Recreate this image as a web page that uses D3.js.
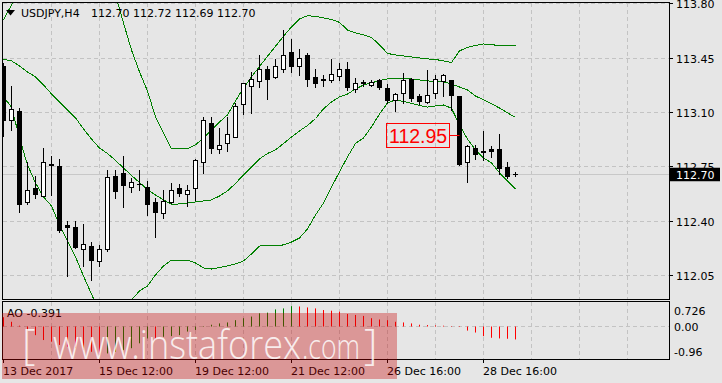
<!DOCTYPE html>
<html>
<head>
<meta charset="utf-8">
<script src="https://cdn.jsdelivr.net/npm/d3@7"></script>
<style>
	html, body { margin: 0; padding: 0; background: #e6e6e6; }
	svg { display: block; }
	text { font-family: 'DejaVu Sans', sans-serif; font-size: 11px; fill: #000; }
</style>
</head>
<body>
<svg id="chart" width="722" height="383"></svg>
<script>
// USDJPY H4 candles (bar 0 = left edge)
const open = [113.40, 113.05, 113.11, 112.52, 112.61, 112.56, 112.765, 112.75, 112.37, 112.36,
	112.22, 112.24, 112.14, 112.22, 112.69, 112.71, 112.62, 112.64, 112.62, 112.52,
	112.45, 112.52, 112.61, 112.575, 112.61, 112.78, 113.03, 112.865, 112.90, 112.94,
	113.155, 113.27, 113.30, 113.375, 113.325, 113.38, 113.485, 113.40, 113.465, 113.325,
	113.31, 113.305, 113.335, 113.375, 113.25, 113.288, 113.272, 113.305, 113.253, 113.177,
	113.22, 113.315, 113.203, 113.162, 113.22, 113.302, 113.304, 113.205, 112.78, 112.872,
	112.84, 112.865, 112.865, 112.749, 112.70]
const high = [113.42, 113.27, 113.13, 112.78, 112.69, 112.87, 112.82, 112.80, 112.40, 112.40,
	112.38, 112.27, 112.25, 112.73, 112.73, 112.82, 112.68, 112.73, 112.66, 112.55,
	112.60, 112.65, 112.64, 112.635, 112.80, 113.07, 113.07, 113.00, 113.07, 113.16,
	113.29, 113.36, 113.47, 113.40, 113.445, 113.63, 113.575, 113.51, 113.485, 113.38,
	113.345, 113.445, 113.42, 113.425, 113.325, 113.31, 113.31, 113.317, 113.285, 113.224,
	113.356, 113.321, 113.218, 113.377, 113.343, 113.35, 113.305, 113.21, 112.89, 112.891,
	112.98, 112.885, 112.962, 112.78, 112.72]
const low = [112.95, 112.99, 112.46, 112.51, 112.55, 112.56, 112.57, 112.33, 112.05, 112.23,
	112.11, 112.02, 112.11, 112.21, 112.55, 112.49, 112.59, 112.60, 112.44, 112.30,
	112.42, 112.52, 112.56, 112.50, 112.54, 112.71, 112.84, 112.84, 112.85, 112.94,
	113.09, 113.10, 113.265, 113.19, 113.32, 113.36, 113.36, 113.34, 113.27, 113.265,
	113.27, 113.30, 113.31, 113.245, 113.235, 113.27, 113.27, 113.25, 113.162, 113.108,
	113.162, 113.173, 113.153, 113.16, 113.192, 113.21, 113.12, 112.765, 112.656, 112.80,
	112.794, 112.814, 112.704, 112.682, 112.69]
const close = [113.05, 113.12, 112.51, 112.60, 112.57, 112.78, 112.76, 112.34, 112.36, 112.23,
	112.25, 112.15, 112.22, 112.68, 112.59, 112.63, 112.65, 112.635, 112.51, 112.46,
	112.53, 112.60, 112.58, 112.60, 112.79, 113.05, 112.87, 112.89, 112.96, 113.14,
	113.285, 113.31, 113.38, 113.31, 113.395, 113.47, 113.395, 113.45, 113.31, 113.29,
	113.305, 113.345, 113.38, 113.26, 113.285, 113.292, 113.291, 113.263, 113.18, 113.214,
	113.304, 113.192, 113.171, 113.211, 113.311, 113.336, 113.21, 112.768, 112.885, 112.833,
	112.852, 112.852, 112.74, 112.688, 112.70]

// Bollinger bands as drawn (parts above / below the panel are estimates)
const bandUpper = [113.697, 113.793, 113.864, 113.961, 114.012, 113.999, 113.941, 113.961, 113.961, 113.961,
	113.941, 113.929, 113.929, 113.922, 113.858, 113.677, 113.503, 113.362, 113.239, 113.072,
	112.969, 112.866, 112.866, 112.866, 112.892, 112.937, 112.988, 113.040, 113.085, 113.175,
	113.259, 113.330, 113.397, 113.463, 113.527, 113.592, 113.652, 113.703, 113.724, 113.719,
	113.710, 113.700, 113.681, 113.632, 113.613, 113.600, 113.584, 113.536, 113.481, 113.471,
	113.465, 113.458, 113.452, 113.446, 113.442, 113.433, 113.423, 113.497, 113.520, 113.532,
	113.542, 113.539, 113.529, 113.529, 113.529]
const bandMiddle = [113.444, 113.433, 113.400, 113.362, 113.330, 113.278, 113.220, 113.169, 113.117, 113.066,
	112.995, 112.930, 112.872, 112.837, 112.792, 112.744, 112.695, 112.650, 112.605, 112.570,
	112.538, 112.509, 112.512, 112.518, 112.525, 112.531, 112.538, 112.563, 112.596, 112.644,
	112.699, 112.750, 112.802, 112.837, 112.860, 112.901, 112.943, 112.982, 113.017, 113.062,
	113.124, 113.169, 113.201, 113.220, 113.252, 113.278, 113.291, 113.307, 113.317, 113.320,
	113.320, 113.317, 113.310, 113.304, 113.301, 113.297, 113.285, 113.265, 113.246, 113.207,
	113.182, 113.156, 113.130, 113.098, 113.069]
const bandLower = [113.201, 113.136, 112.937, 112.763, 112.647, 112.557, 112.499, 112.377, 112.274, 112.171,
	112.048, 111.932, 111.816, 111.752, 111.726, 111.810, 111.894, 111.952, 111.984, 112.055,
	112.113, 112.151, 112.151, 112.151, 112.132, 112.100, 112.093, 112.103, 112.113, 112.126,
	112.145, 112.190, 112.241, 112.245, 112.245, 112.248, 112.267, 112.293, 112.351, 112.441,
	112.518, 112.621, 112.718, 112.815, 112.901, 112.937, 113.008, 113.091, 113.162, 113.182,
	113.172, 113.160, 113.146, 113.136, 113.143, 113.149, 113.128, 113.021, 112.930, 112.860,
	112.808, 112.776, 112.712, 112.660, 112.607]

// Awesome Oscillator
const aoValues = [0.29, 0.15, 0.03, -0.12, -0.26, -0.41, -0.46, -0.56, -0.61, -0.66,
	-0.72, -0.77, -0.87, -0.82, -0.77, -0.72, -0.66, -0.51, -0.36, -0.39,
	-0.31, -0.29, -0.26, -0.15, -0.10, 0.02, 0.06, 0.10, 0.13, 0.20,
	0.26, 0.31, 0.41, 0.43, 0.53, 0.56, 0.63, 0.62, 0.59, 0.56,
	0.51, 0.49, 0.46, 0.39, 0.36, 0.33, 0.26, 0.22, 0.20, 0.15,
	0.13, 0.10, 0.06, 0.05, 0.04, 0.03, 0.02, -0.01, -0.12, -0.18,
	-0.29, -0.34, -0.36, -0.37, -0.391]

const priceTicks = [113.80, 113.45, 113.10, 112.75, 112.40, 112.05]
const aoTicks = [0.726, 0, -0.96]
const aoTickLabels = ['0.726', '0.00', '-0.96']
const timeTickBars = [0, 12, 24, 36, 48, 60]
const timeTickLabels = ['13 Dec 2017', '15 Dec 12:00', '19 Dec 12:00', '21 Dec 12:00', '26 Dec 16:00', '28 Dec 16:00']
const lastPrice = 112.70
const markPrice = 112.95
const markBar = 57

const bg = '#e6e6e6'
const gridColor = '#c3c3c3'
const bandColor = '#008000'
const crisp = (v) => Math.floor(v) + 0.5

const svg = d3.select('#chart')

const x = d3.scaleLinear().domain([0, 1]).range([3.5, 11.5])
const y = d3.scaleLinear().domain([111.9, 113.825]).range([299, 0])
const yAo = d3.scaleLinear().domain([-0.96, 0.726]).range([358, 303])

const bars = d3.range(open.length).map((i) => ({
	i, o: open[i], h: high[i], l: low[i], c: close[i]
}))

svg.append('rect').attr('width', 722).attr('height', 383).attr('fill', bg)

const defs = svg.append('defs')
defs.append('clipPath').attr('id', 'clip-main')
	.append('rect').attr('x', 3).attr('y', 3).attr('width', 666).attr('height', 296)
defs.append('clipPath').attr('id', 'clip-ao')
	.append('rect').attr('x', 3).attr('y', 302).attr('width', 666).attr('height', 57)

// ---- main panel
const main = svg.append('g').attr('clip-path', 'url(#clip-main)')

const gridBars = d3.range(6, 79, 6)
main.selectAll('line.vgrid')
	.data(gridBars)
	.join('line')
		.attr('class', 'vgrid')
		.attr('x1', (d) => x(d)).attr('x2', (d) => x(d))
		.attr('y1', 3).attr('y2', 299)
		.attr('stroke', gridColor)
		.attr('stroke-dasharray', '4,3')

main.selectAll('line.hgrid')
	.data(priceTicks)
	.join('line')
		.attr('class', 'hgrid')
		.attr('x1', 3).attr('x2', 669)
		.attr('y1', (d) => crisp(y(d))).attr('y2', (d) => crisp(y(d)))
		.attr('stroke', gridColor)
		.attr('stroke-dasharray', '4,3')

// current price line
main.append('line')
	.attr('x1', 3).attr('x2', 669)
	.attr('y1', crisp(y(lastPrice))).attr('y2', crisp(y(lastPrice)))
	.attr('stroke', '#c8c8c8')

const bandLine = d3.line()
	.x((d, i) => x(i))
	.y((d) => y(d))

main.selectAll('path.band')
	.data([bandUpper, bandMiddle, bandLower])
	.join('path')
		.attr('class', 'band')
		.attr('d', bandLine)
		.attr('fill', 'none')
		.attr('stroke', bandColor)
		.attr('stroke-width', 1)
		.attr('shape-rendering', 'crispEdges')

const candle = main.selectAll('g.candle')
	.data(bars)
	.join('g')
		.attr('class', 'candle')

candle.append('line')
	.attr('x1', (d) => x(d.i)).attr('x2', (d) => x(d.i))
	.attr('y1', (d) => Math.round(y(d.h))).attr('y2', (d) => Math.round(y(d.l)) + 1)
	.attr('stroke', '#000')

candle.append('rect')
	.attr('x', (d) => x(d.i) - 2)
	.attr('width', 4)
	.attr('y', (d) => crisp(y(Math.max(d.o, d.c))))
	.attr('height', (d) => Math.max(0.01, crisp(y(Math.min(d.o, d.c))) - crisp(y(Math.max(d.o, d.c)))))
	.attr('fill', (d) => d.c > d.o ? '#fff' : '#000')
	.attr('stroke', '#000')

// 112.95 label
const markY = crisp(y(markPrice))
main.append('line')
	.attr('x1', 449.5).attr('x2', x(markBar))
	.attr('y1', markY).attr('y2', markY)
	.attr('stroke', '#ff0000')
main.append('rect')
	.attr('x', 386.5).attr('y', markY - 12).attr('width', 63).attr('height', 24)
	.attr('fill', 'none')
	.attr('stroke', '#ff0000')
main.append('text')
	.attr('x', 389).attr('y', markY + 7.5)
	.style('font-family', "'Liberation Sans', Arial, sans-serif")
	.style('font-size', '19.5px')
	.style('fill', '#ff0000')
	.text(markPrice.toFixed(2))

// title
svg.append('path')
	.attr('d', 'M6,10 L15,10 L10.5,15.5 Z')
	.attr('fill', '#000')
svg.append('text').attr('x', 21).attr('y', 17).text('USDJPY,H4')
svg.append('text').attr('x', 91).attr('y', 17)
	.text([open, high, low, close].map((s) => s[s.length - 1].toFixed(2)).join(' '))

// price axis
svg.selectAll('line.ptick')
	.data(priceTicks)
	.join('line')
		.attr('class', 'ptick')
		.attr('x1', 669).attr('x2', 673)
		.attr('y1', (d) => crisp(y(d))).attr('y2', (d) => crisp(y(d)))
		.attr('stroke', '#000')
svg.selectAll('text.plabel')
	.data(priceTicks)
	.join('text')
		.attr('class', 'plabel')
		.attr('x', 676)
		.attr('y', (d) => y(d) + 4.5)
		.text((d) => d.toFixed(2))

const lastY = y(lastPrice)
svg.append('rect')
	.attr('x', 670).attr('y', lastY - 7).attr('width', 50).attr('height', 13.5)
	.attr('fill', '#000')
svg.append('text')
	.attr('x', 676).attr('y', lastY + 4)
	.style('fill', '#fff')
	.text(lastPrice.toFixed(2))

// ---- AO panel
const ao = svg.append('g').attr('clip-path', 'url(#clip-ao)')

ao.selectAll('line.vgrid')
	.data(gridBars)
	.join('line')
		.attr('class', 'vgrid')
		.attr('x1', (d) => x(d)).attr('x2', (d) => x(d))
		.attr('y1', 302).attr('y2', 359)
		.attr('stroke', gridColor)
		.attr('stroke-dasharray', '4,3')

ao.append('line')
	.attr('x1', 3).attr('x2', 669)
	.attr('y1', crisp(yAo(0))).attr('y2', crisp(yAo(0)))
	.attr('stroke', gridColor)
	.attr('stroke-dasharray', '4,3')

ao.selectAll('line.ao')
	.data(aoValues)
	.join('line')
		.attr('class', 'ao')
		.attr('x1', (d, i) => x(i)).attr('x2', (d, i) => x(i))
		.attr('y1', crisp(yAo(0)))
		.attr('y2', (d) => yAo(d))
		.attr('stroke', (d, i) => (i > 0 && d > aoValues[i - 1]) ? bandColor : '#ff0000')

svg.append('text').attr('x', 7).attr('y', 316.5)
	.text('AO ' + aoValues[aoValues.length - 1].toFixed(3))

svg.selectAll('text.aolabel')
	.data(aoTicks)
	.join('text')
		.attr('class', 'aolabel')
		.attr('x', 674)
		.attr('y', (d) => Math.min(355.5, Math.max(315, yAo(d) + 4.3)))
		.text((d, i) => aoTickLabels[i])

// borders
svg.append('rect')
	.attr('x', 2.5).attr('y', 2.5).attr('width', 667).attr('height', 297)
	.attr('fill', 'none').attr('stroke', '#000')
svg.append('rect')
	.attr('x', 2.5).attr('y', 301.5).attr('width', 667).attr('height', 58)
	.attr('fill', 'none').attr('stroke', '#000')

// time axis
svg.selectAll('line.ttick')
	.data(timeTickBars)
	.join('line')
		.attr('class', 'ttick')
		.attr('x1', (d) => x(d)).attr('x2', (d) => x(d))
		.attr('y1', 359).attr('y2', 363)
		.attr('stroke', '#000')
svg.selectAll('text.tlabel')
	.data(timeTickBars)
	.join('text')
		.attr('class', 'tlabel')
		.attr('x', (d) => x(d) - 0.5)
		.attr('y', 375)
		.text((d, i) => timeTickLabels[i])

// watermark
svg.append('rect')
	.attr('x', 2).attr('y', 313).attr('width', 395).attr('height', 66)
	.attr('fill', 'rgba(200,0,0,0.34)')
const wm = svg.append('g')
	.style('opacity', 0.82)
const wmText = (str, xPos, size, len) => {
	const t = wm.append('text')
		.attr('x', xPos).attr('y', 359)
		.style('font-family', "'Open Sans', 'Noto Sans', sans-serif")
		.style('font-weight', 300)
		.style('font-size', size + 'px')
		.style('fill', '#fff')
		.text(str)
	if (len) t.attr('textLength', len).attr('lengthAdjust', 'spacingAndGlyphs')
}
wmText('[', 22, 42)
wmText('www.instaforex', 53, 40, 248)
wmText('.com', 302, 34, 58)
wmText(']', 364, 42)
</script>
</body>
</html>
